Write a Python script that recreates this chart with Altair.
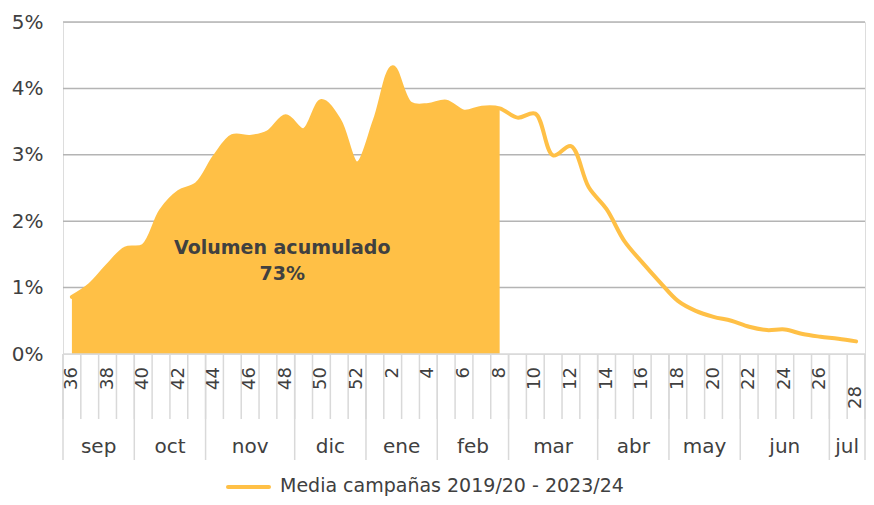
import altair as alt
import pandas as pd
import numpy as np

# ---- data ----
weeks = list(range(36, 53)) + list(range(1, 29))
values = [0.86, 1.04, 1.33, 1.59, 1.63, 2.16, 2.44, 2.56, 2.97, 3.28, 3.27, 3.34,
          3.58, 3.37, 3.81, 3.52, 2.87,
          3.52, 4.32, 3.77, 3.75, 3.80, 3.65, 3.71, 3.70,
          3.56, 3.62, 2.99, 3.13, 2.51,
          2.18, 1.70, 1.38, 1.08,
          0.80, 0.65, 0.56, 0.50,
          0.41, 0.36, 0.37, 0.30, 0.26,
          0.23, 0.19]
months = ["sep", "oct", "nov", "dic", "ene", "feb", "mar", "abr", "may", "jun", "jul"]
month_len = [4, 4, 5, 4, 4, 4, 5, 4, 4, 5, 2]
y_ticks = [0, 1, 2, 3, 4, 5]
grid_ticks = [1, 2, 3, 4, 5]
series_name = "Media campañas 2019/20 - 2023/24"
annotation = ["Volumen acumulado", "73%"]
area_until_week = 8

# ---- tables ----
n = len(weeks)
df = pd.DataFrame({"week": weeks, "value": values, "pos": np.arange(n) + 0.5})
df["label"] = [str(w) if w % 2 == 0 else "" for w in weeks]
area_df = df.iloc[: weeks.index(area_until_week) + 1]
bounds_df = pd.DataFrame({"b": np.arange(n + 1)})
ends = np.cumsum(month_len)
starts = np.concatenate([[0], ends[:-1]])
month_df = pd.DataFrame({"month": months, "mid": (starts + ends) / 2.0})
month_bounds_df = pd.DataFrame({"b": np.concatenate([[0], ends])})
grid_df = pd.DataFrame({"g": grid_ticks})
legend_df = pd.DataFrame({"name": [series_name]})

W, H = 802, 332
ORANGE = "#FFC046"
TXT = "#404040"
FONT = "DejaVu Sans"

xs = alt.Scale(domain=[0, n], nice=False, zero=False)
ys = alt.Scale(domain=[0, 5], nice=False)
yaxis = alt.Axis(values=y_ticks, labelExpr="datum.value + '%'", grid=False,
                 domain=False, ticks=False, labelPadding=20, labelFontSize=20,
                 labelColor=TXT, labelFont=FONT, title=None)

grid = alt.Chart(grid_df).mark_rule(color="#B4B4B4", strokeWidth=1.5).encode(
    y=alt.Y("g:Q", scale=ys, axis=yaxis),
    x=alt.value(0), x2=alt.value(W))

area = alt.Chart(area_df).mark_area(color=ORANGE, opacity=1,
                                    interpolate="catmull-rom").encode(
    x=alt.X("pos:Q", scale=xs, axis=None),
    y=alt.Y("value:Q", scale=ys, axis=yaxis))

line = alt.Chart(df).mark_line(color=ORANGE, strokeWidth=4, strokeCap="round",
                               interpolate="catmull-rom").encode(
    x=alt.X("pos:Q", scale=xs, axis=None),
    y=alt.Y("value:Q", scale=ys, axis=yaxis))

baseline = alt.Chart(legend_df).mark_rule(color="#D9D9D9", strokeWidth=1.5).encode(
    x=alt.value(0), x2=alt.value(W), y=alt.value(H))

ticks = alt.Chart(bounds_df).mark_rule(color="#D9D9D9", strokeWidth=1.5).encode(
    x=alt.X("b:Q", scale=xs, axis=None), y=alt.value(H), y2=alt.value(H + 65))

mticks = alt.Chart(month_bounds_df).mark_rule(color="#D9D9D9", strokeWidth=1.5).encode(
    x=alt.X("b:Q", scale=xs, axis=None), y=alt.value(H), y2=alt.value(H + 106))

wlabels = alt.Chart(df).transform_filter(
    f"datum.week != {weeks[-1]}").mark_text(
    angle=270, align="right", baseline="middle", fontSize=18, color=TXT, font=FONT).encode(
    x=alt.X("pos:Q", scale=xs, axis=None), y=alt.value(H + 13), text="label:N")

wlast = alt.Chart(df).transform_filter(
    f"datum.week == {weeks[-1]}").mark_text(
    angle=270, align="right", baseline="middle", fontSize=18, color=TXT, font=FONT).encode(
    x=alt.X("pos:Q", scale=xs, axis=None), y=alt.value(H + 32), text="label:N")

mlabels = alt.Chart(month_df).mark_text(
    baseline="middle", fontSize=20, color=TXT, font=FONT).encode(
    x=alt.X("mid:Q", scale=xs, axis=None), y=alt.value(H + 93), text="month:N")

annot = alt.Chart(legend_df).mark_text(
    text=annotation, fontWeight="bold", fontSize=19, color=TXT, font=FONT,
    lineHeight=26, baseline="middle").encode(
    x=alt.datum(12.3, scale=xs), y=alt.datum(1.6, scale=ys))

leg_line = alt.Chart(legend_df).mark_rule(color=ORANGE, strokeWidth=4, strokeCap="round").encode(
    x=alt.value(165), x2=alt.value(206), y=alt.value(H + 133))

leg_text = alt.Chart(legend_df).mark_text(
    align="left", baseline="middle", fontSize=19, color=TXT, font=FONT).encode(
    x=alt.value(217), y=alt.value(H + 132), text="name:N")

chart = alt.layer(grid, area, line, baseline, ticks, mticks, wlabels, wlast,
                  mlabels, annot, leg_line, leg_text).properties(
    width=W, height=H,
    autosize=alt.AutoSizeParams(type="none"),
    padding={"left": 55, "top": 14, "right": 1, "bottom": 143},
    background="white",
).configure_view(stroke=None).configure(font=FONT)

chart.save("out.html", embed_options={"renderer": "svg", "actions": False})
